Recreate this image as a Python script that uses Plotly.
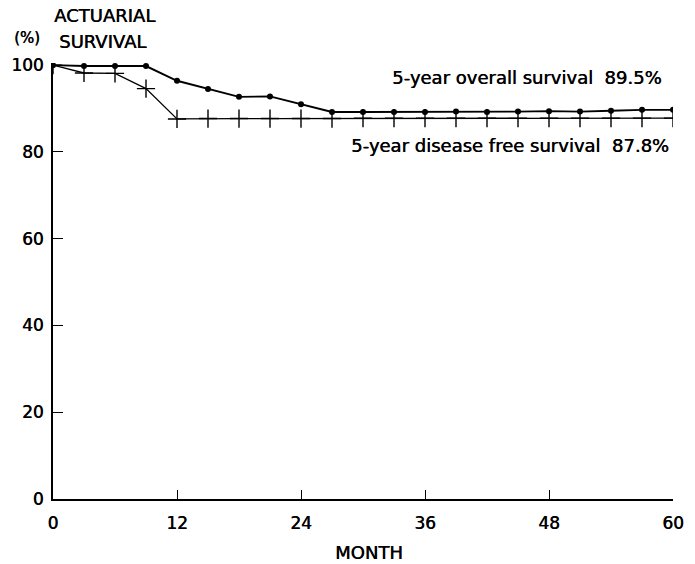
import plotly.graph_objects as go

months = [0, 3, 6, 9, 12, 15, 18, 21, 24, 27, 30, 33, 36, 39, 42, 45, 48, 51, 54, 57, 60]
overall = [100, 99.8, 99.8, 99.8, 96.4, 94.5, 92.7, 92.8, 91.0, 89.2, 89.2, 89.2, 89.2,
           89.3, 89.2, 89.3, 89.4, 89.3, 89.5, 89.7, 89.7]
disease_free = [100, 98.2, 98.1, 94.6, 87.6, 87.7, 87.7, 87.7, 87.7, 87.7, 87.8, 87.8, 87.8,
                87.8, 87.8, 87.8, 87.8, 87.8, 87.8, 87.8, 87.8]

x_ticks = [0, 12, 24, 36, 48, 60]
y_ticks = [0, 20, 40, 60, 80, 100]

label_overall = "5-year overall survival\u00a0\u00a089.5%"
label_disease = "5-year disease free survival\u00a0\u00a087.8%"

FONT = "DejaVu Sans"
SHADOW = "0.5px 0px 0px black"
W, H = 695, 564
L, R, T, B = 52, 11, 63, 65
PW, PH = W - L - R, H - T - B


def px(xp):
    return (xp - L) / PW


def py(yp):
    return (H - B - yp) / PH


fig = go.Figure()
fig.add_trace(go.Scatter(
    x=months, y=disease_free, mode="lines+markers",
    line=dict(color="black", width=1.3),
    marker=dict(symbol="cross-thin", size=13, line=dict(color="black", width=1.4)),
    showlegend=False,
))
fig.add_trace(go.Scatter(
    x=months, y=overall, mode="lines+markers",
    line=dict(color="black", width=1.9),
    marker=dict(symbol="circle", size=6, color="black"),
    showlegend=False,
))

ann = dict(showarrow=False, xref="paper", yref="paper",
           font=dict(family=FONT, size=18, color="black", shadow=SHADOW))
fig.add_annotation(text="ACTUARIAL", x=px(105), y=py(15), xanchor="center", yanchor="middle", **ann)
fig.add_annotation(text="SURVIVAL", x=px(102), y=py(42), xanchor="center", yanchor="middle", **ann)
fig.add_annotation(text="(%)", x=px(26), y=py(38), xanchor="center", yanchor="middle",
                   showarrow=False, xref="paper", yref="paper",
                   font=dict(family=FONT, size=15, color="black", shadow=SHADOW))
fig.add_annotation(text="MONTH", x=px(374), y=py(552), xanchor="center", yanchor="middle", **ann)
fig.add_annotation(text=label_overall, x=px(675), y=py(77), xanchor="right", yanchor="middle", **ann)
fig.add_annotation(text=label_disease, x=px(682), y=py(145), xanchor="right", yanchor="middle", **ann)

fig.update_layout(
    width=W, height=H,
    margin=dict(l=L, r=R, t=T, b=B, pad=0),
    paper_bgcolor="white", plot_bgcolor="white",
    font=dict(family=FONT, size=17, color="black"),
)
fig.update_xaxes(
    range=[0, 60], tickvals=x_ticks, ticktext=[str(v) for v in x_ticks],
    showgrid=False, zeroline=False, showline=True, linecolor="black", linewidth=2,
    ticks="inside", ticklen=9, tickwidth=1.2, tickcolor="black",
    ticklabelstandoff=8,
    tickfont=dict(family=FONT, size=17, color="black", shadow=SHADOW),
)
fig.update_yaxes(
    range=[0, 100.5], tickvals=y_ticks, ticktext=[str(v) for v in y_ticks],
    showgrid=False, zeroline=False, showline=True, linecolor="black", linewidth=2,
    ticks="inside", ticklen=10, tickwidth=1.2, tickcolor="black",
    ticklabelstandoff=4,
    tickfont=dict(family=FONT, size=17, color="black", shadow=SHADOW),
)

fig.write_html("out.html")
